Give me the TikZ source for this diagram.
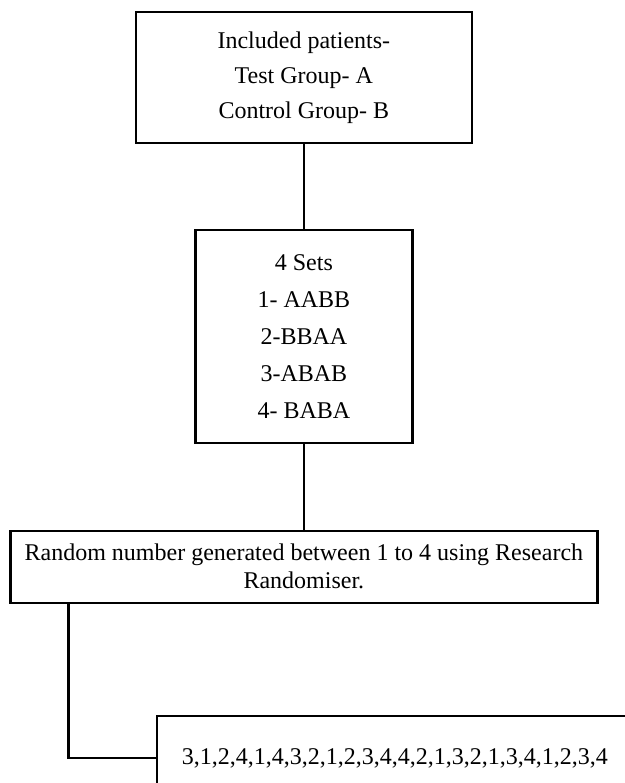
\documentclass[tikz,border=0pt]{standalone}
\usepackage{fontspec}
\setmainfont{Liberation Serif}
\usepackage{tikz}
\usetikzlibrary{positioning, calc}

\begin{document}
\begin{tikzpicture}[
    box/.style={rectangle, draw=black, line width=1.2pt, align=center, font=\fontsize{12}{18.5}\selectfont},
    widebox/.style={rectangle, draw=black, line width=1.2pt, align=center, font=\fontsize{12}{14}\selectfont},
    link/.style={line width=1.2pt}
]
    % Frame of the picture
    \clip (0, 0) rectangle (10.983, 13.76);

    % Patients
    \node[box, font=\fontsize{12}{17.5}\selectfont, minimum width=5.905cm, minimum height=2.302cm] (incl) at (5.34, 12.40) {Included patients-\\Test Group- A\\Control Group- B};

    % Sets
    \node[box, minimum width=3.813cm, minimum height=3.743cm] (sets) at (5.34, 7.85) {4 Sets\\1- AABB\\2-BBAA\\3-ABAB\\4- BABA};

    % Randomiser
    \node[widebox, minimum width=10.315cm, minimum height=1.265cm] (rand) at (5.34, 3.80) {Random number generated between 1 to 4 using Research\\Randomiser.};

    % Sequence
    \node[box, minimum width=8.365cm, minimum height=1.476cm] (seq) at (6.94, 0.44) {3,1,2,4,1,4,3,2,1,2,3,4,4,2,1,3,2,1,3,4,1,2,3,4};

    % Lines
    \draw[link] (incl) -- (sets);
    \draw[link] (sets) -- (rand);
    \coordinate (bend) at ($(rand.south west)+(1.04, 0)$);
    \draw[link] (bend) |- (seq.west);

\end{tikzpicture}
\end{document}
